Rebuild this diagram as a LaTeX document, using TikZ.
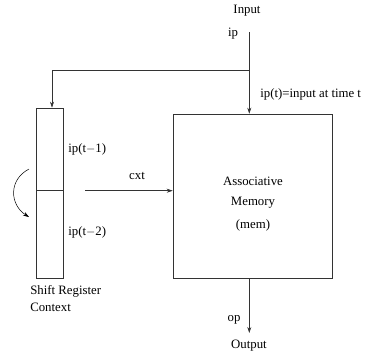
\documentclass[tikz,border=0pt]{standalone}
\usepackage{fontspec}
\setmainfont{Liberation Serif}
\usetikzlibrary{arrows.meta}
\begin{document}
\begin{tikzpicture}[x=1pt,y=-1pt,
  line width=0.6pt,
  wire/.style={draw=black!80},
  arr/.style={wire,-{Stealth[length=6pt,width=4pt]}},
  lbl/.style={font=\fontsize{12.8}{14}\selectfont,inner sep=0pt},
  llbl/.style={lbl,anchor=west},
  blk/.style={draw=black!80,inner sep=0pt}]
\useasboundingbox (0,0) rectangle (365,354);
% associative memory block
\node[blk,minimum width=159pt,minimum height=164pt] (mem) at (252.5,196) {};
\node[lbl] (t1) at (253,181) {Associative};
\node[lbl] (t2) at (253,203) {Memory};
\node[lbl] (t3) at (253,225) {(mem)};
% shift register with two cells
\node[blk,minimum width=27pt,minimum height=170pt] (reg) at (49.5,193) {};
\coordinate (divL) at (36,190.7);
\coordinate (divR) at (63,190.7);
\draw[wire] (divL) -- (divR);
% input path and branch
\node[lbl] (in) at (247,11) {Input};
\node[lbl] (ip) at (233,34) {ip};
\coordinate (src) at (249.3,32);
\coordinate (fork) at (249.3,70);
\coordinate (corner) at (52,70);
\draw[arr] (src) -- (mem.north -| src);
\draw[wire] (fork) -- (corner);
\draw[arr] (corner) -- (reg.north -| corner);
\node[llbl] (ipt) at (260,94) {ip(t)=input at time t};
% register cell labels
\node[llbl] (ip1) at (68,149) {ip(t$-$1)};
\node[llbl] (ip2) at (68,232) {ip(t$-$2)};
% context feed into memory
\coordinate (cxs) at (85,190.7);
\draw[arr] (cxs) -- (mem.west |- cxs);
\node[lbl] (cxt) at (137,176) {cxt};
% shift action
\coordinate (sa) at (29,169);
\coordinate (sb) at (29,217);
\draw[line width=0.5pt,-{Stealth[length=6pt,width=4pt]}] (sa) .. controls (8,180) and (10,205) .. (sb);
\node[llbl] (sr) at (30,291) {Shift Register};
\node[llbl] (ctx) at (30,307) {Context};
% output
\coordinate (oe) at (249.3,333);
\draw[arr] (mem.south -| oe) -- (oe);
\node[lbl] (op) at (234,320) {op};
\node[lbl] (out) at (249,346) {Output};
\end{tikzpicture}
\end{document}
